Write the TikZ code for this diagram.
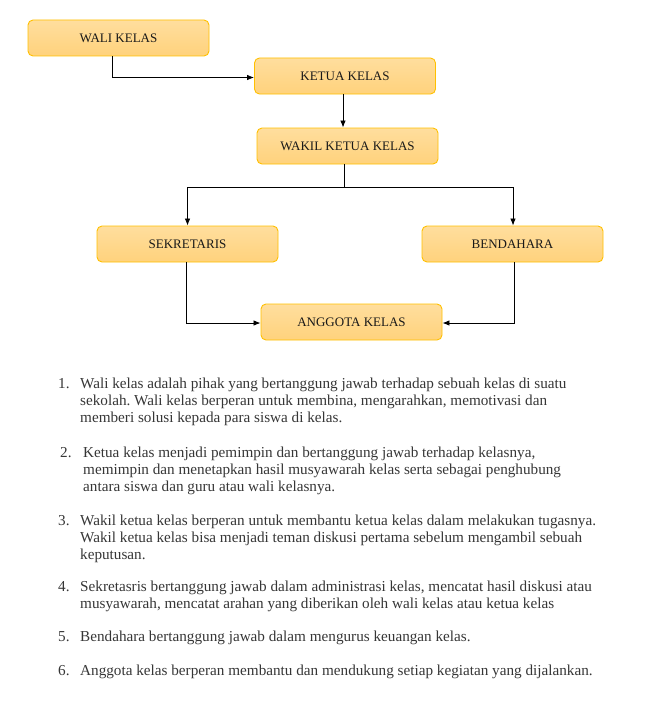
\documentclass[tikz,border=0pt]{standalone}
\usepackage{fontspec}
\setmainfont{Liberation Serif}
\usepackage{xcolor}
\usetikzlibrary{positioning, calc, arrows.meta}
\frenchspacing

\definecolor{boxtop}{HTML}{FFDE9E}
\definecolor{boxbot}{HTML}{FFD27C}
\definecolor{boxline}{HTML}{FFC000}
\definecolor{bodytext}{HTML}{363636}

\tikzset{
    jabatan/.style={draw=boxline, line width=0.9pt, rounded corners=5pt,
        top color=boxtop, bottom color=boxbot, minimum width=181pt,
        minimum height=36pt, inner sep=0pt, text=black!90,
        font=\fontsize{13}{15}\selectfont},
    garis/.style={->, line width=0.8pt},
    nomor/.style={anchor=base west, inner sep=0pt, text=bodytext,
        font=\fontsize{15.2}{17.3}\selectfont},
    uraian/.style={nomor}
}
% baris keterangan, rata atas pada baris pertama
\newcommand{\baris}[1]{\begin{tabular}[t]{@{}l@{}}#1\end{tabular}}

\begin{document}
\begin{tikzpicture}[x=1pt, y=-1pt, >={Latex[length=7pt,width=5.5pt]}]

    \useasboundingbox (0,0) rectangle (648,709);

    % --- Bagan struktur kelas ---
    \node[jabatan] (wali) at (118.5, 38) {WALI KELAS};
    \node[jabatan] (ketua) at (345, 76) {KETUA KELAS};
    \node[jabatan] (wakil) at (347.5, 146) {WAKIL KETUA KELAS};
    \node[jabatan] (sekretaris) at (187.5, 244) {SEKRETARIS};
    \node[jabatan] (bendahara) at (512.5, 244) {BENDAHARA};
    \node[jabatan] (anggota) at (351.5, 322) {ANGGOTA KELAS};

    % --- Garis penghubung ---
    \draw[garis] ([xshift=-6pt]wali.south) |- ([yshift=-1.5pt]ketua.west);
    \draw[garis] ([xshift=-2pt]ketua.south) -- ([xshift=-2pt]ketua.south |- wakil.north);
    \coordinate (cabang) at ([xshift=-3.5pt, yshift=-23pt]wakil.south);
    \draw[line width=0.8pt] ([xshift=-3.5pt]wakil.south) -- (cabang);
    \draw[garis] (cabang) -| (sekretaris.north);
    \draw[garis] (cabang) -| ([xshift=0.5pt]bendahara.north);
    \draw[garis] ([xshift=-1.5pt]sekretaris.south) |- ([yshift=-1pt]anggota.west);
    \draw[garis] ([xshift=1.5pt]bendahara.south) |- ([yshift=-1pt]anggota.east);

    % --- Keterangan ---
    \node[nomor] (num1) at (58, 388) {1.};
    \node[uraian] (txt1) at (80, 388) {\baris{Wali kelas adalah pihak yang bertanggung jawab terhadap sebuah kelas di suatu\\
        sekolah. Wali kelas berperan untuk membina, mengarahkan, memotivasi dan\\
        memberi solusi kepada para siswa di kelas.}};

    \node[nomor] (num2) at (60, 457) {2.};
    \node[uraian] (txt2) at (83, 457) {\baris{Ketua kelas menjadi pemimpin dan bertanggung jawab terhadap kelasnya,\\
        memimpin dan menetapkan hasil musyawarah kelas serta sebagai penghubung\\
        antara siswa dan guru atau wali kelasnya.}};

    \node[nomor] (num3) at (58, 525) {3.};
    \node[uraian] (txt3) at (80, 525) {\baris{Wakil ketua kelas berperan untuk membantu ketua kelas dalam melakukan tugasnya.\\
        Wakil ketua kelas bisa menjadi teman diskusi pertama sebelum mengambil sebuah\\
        keputusan.}};

    \node[nomor] (num4) at (58, 591) {4.};
    \node[uraian] (txt4) at (80, 591) {\baris{Sekretasris bertanggung jawab dalam administrasi kelas, mencatat hasil diskusi atau\\
        musyawarah, mencatat arahan yang diberikan oleh wali kelas atau ketua kelas}};

    \node[nomor] (num5) at (58, 641) {5.};
    \node[uraian] (txt5) at (80, 641) {Bendahara bertanggung jawab dalam mengurus keuangan kelas.};

    \node[nomor] (num6) at (58, 675) {6.};
    \node[uraian] (txt6) at (80, 675) {Anggota kelas berperan membantu dan mendukung setiap kegiatan yang dijalankan.};

\end{tikzpicture}
\end{document}
